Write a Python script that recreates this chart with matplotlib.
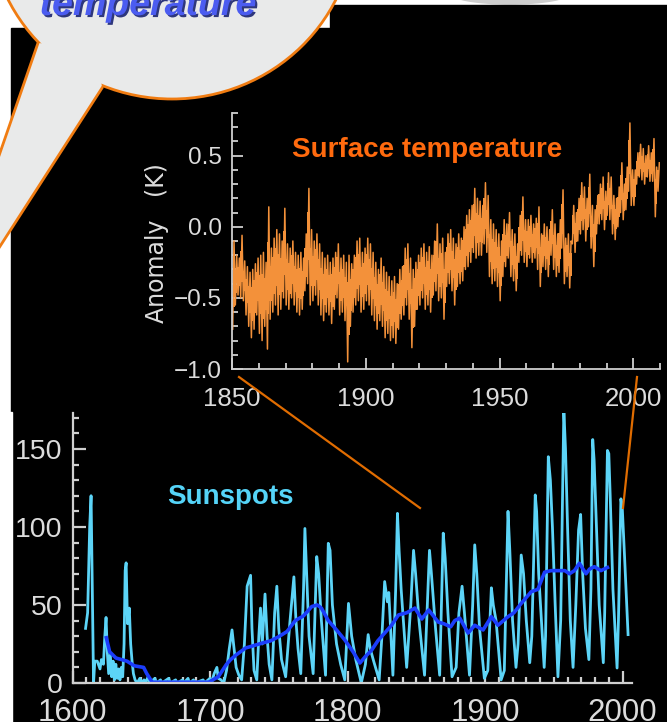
import numpy as np
import matplotlib.pyplot as plt
import matplotlib.patheffects as pe
from matplotlib.patches import Ellipse, Polygon, Rectangle
from matplotlib.ticker import MultipleLocator

plt.rcParams['font.family'] = ['Liberation Sans', 'DejaVu Sans']

# ---- surface temperature anomaly (K), yearly upper / lower envelope, 1850-2009
temp_years = np.arange(1850, 2010)
temp_hi = [
    -0.10, -0.20, -0.22, -0.06, -0.24, -0.28, -0.32, -0.30, -0.26, -0.22,
    -0.20, -0.18, -0.25, 0.14, -0.15, -0.08, -0.02, -0.05, -0.10, 0.13,
    -0.12, -0.15, -0.10, -0.18, -0.20, -0.18, -0.22, -0.05, 0.27, -0.02,
    -0.10, -0.05, -0.12, -0.18, -0.22, -0.20, -0.25, -0.22, -0.18, -0.12,
    -0.22, -0.20, -0.25, -0.20, -0.26, -0.20, -0.10, -0.08, -0.18, -0.15,
    -0.08, -0.12, -0.18, -0.25, -0.30, -0.22, -0.28, -0.32, -0.35, -0.38,
    -0.35, -0.40, -0.30, -0.28, -0.15, -0.12, -0.22, -0.30, -0.25, -0.20,
    -0.15, -0.12, -0.18, -0.14, -0.20, -0.10, 0.02, -0.12, -0.08, -0.18,
    -0.05, -0.02, -0.08, -0.12, -0.05, -0.08, 0.00, 0.08, 0.12, 0.15,
    0.27, 0.20, 0.18, 0.15, 0.31, 0.22, 0.05, 0.02, -0.02, -0.05,
    -0.10, 0.05, 0.02, 0.10, -0.02, -0.05, -0.12, 0.08, 0.21, 0.05,
    0.05, 0.08, 0.02, 0.06, 0.14, -0.05, 0.02, 0.00, -0.02, 0.12,
    0.02, -0.05, 0.05, 0.26, -0.08, -0.05, -0.10, 0.15, 0.10, 0.20,
    0.31, 0.28, 0.20, 0.37, 0.15, 0.12, 0.22, 0.30, 0.35, 0.25,
    0.38, 0.35, 0.22, 0.20, 0.28, 0.45, 0.30, 0.42, 0.73, 0.40,
    0.40, 0.52, 0.58, 0.55, 0.50, 0.57, 0.52, 0.62, 0.42, 0.45,
]
temp_lo = [
    -0.72, -0.55, -0.48, -0.50, -0.52, -0.62, -0.70, -0.78, -0.72, -0.62,
    -0.75, -0.80, -0.70, -0.86, -0.65, -0.60, -0.55, -0.62, -0.58, -0.50,
    -0.55, -0.58, -0.50, -0.55, -0.60, -0.62, -0.58, -0.45, -0.40, -0.55,
    -0.52, -0.48, -0.55, -0.62, -0.66, -0.60, -0.62, -0.68, -0.58, -0.50,
    -0.62, -0.60, -0.66, -0.95, -0.70, -0.60, -0.55, -0.52, -0.60, -0.58,
    -0.52, -0.55, -0.62, -0.66, -0.72, -0.66, -0.70, -0.78, -0.75, -0.80,
    -0.78, -0.82, -0.72, -0.65, -0.62, -0.55, -0.65, -0.85, -0.70, -0.58,
    -0.55, -0.50, -0.58, -0.55, -0.60, -0.48, -0.45, -0.52, -0.50, -0.65,
    -0.42, -0.40, -0.45, -0.55, -0.42, -0.40, -0.38, -0.30, -0.28, -0.25,
    -0.18, -0.22, -0.20, -0.20, -0.12, -0.18, -0.35, -0.40, -0.38, -0.42,
    -0.52, -0.35, -0.28, -0.22, -0.35, -0.38, -0.45, -0.25, -0.20, -0.25,
    -0.28, -0.22, -0.25, -0.22, -0.30, -0.42, -0.28, -0.30, -0.35, -0.20,
    -0.30, -0.35, -0.32, -0.15, -0.40, -0.35, -0.43, -0.12, -0.18, -0.10,
    -0.05, -0.02, -0.10, 0.00, -0.15, -0.28, -0.05, 0.02, 0.05, -0.02,
    0.08, 0.05, -0.05, -0.09, 0.00, 0.10, 0.05, 0.12, 0.25, 0.15,
    0.15, 0.30, 0.35, 0.33, 0.30, 0.35, 0.32, 0.32, 0.07, 0.25,
]

# ---- sunspot number, turning points of the yearly series
sun_years = [
    1609.5, 1611, 1612.5, 1613.5, 1614.5, 1615.3, 1616.2, 1618, 1620, 1621,
    1622.5, 1623.5, 1624.4, 1625.3, 1626.3, 1627.5, 1628.5, 1629.5, 1630.5, 1631.5,
    1632.5, 1633.5, 1634.5, 1635.5, 1636.5, 1637.5, 1638.3, 1639, 1640, 1641.3,
    1642.3, 1643.3, 1644.3, 1645.5, 1647, 1649, 1650, 1652, 1653, 1655,
    1656, 1660, 1661, 1664, 1665, 1670, 1671, 1675, 1676, 1680,
    1681, 1684, 1685, 1688, 1689, 1695, 1696, 1700, 1701, 1703,
    1705, 1706, 1708, 1710, 1712, 1714, 1716, 1717.5, 1719, 1721,
    1723, 1725, 1727, 1729.5, 1730.5, 1732, 1734, 1735.5, 1736.7, 1738,
    1740, 1741.5, 1743, 1745, 1747, 1748.6, 1750, 1752, 1755, 1758,
    1761, 1762.5, 1764, 1766, 1768, 1769, 1770.5, 1772, 1775, 1777,
    1777.6, 1779, 1781, 1784, 1786, 1787.3, 1789, 1792, 1795, 1798,
    1800.7, 1803, 1806, 1810, 1813, 1815, 1816.5, 1819, 1823, 1825,
    1827, 1829, 1830, 1833, 1835, 1836.3, 1837.5, 1839, 1843, 1846,
    1848, 1849.5, 1852, 1856, 1858, 1859.6, 1861, 1864, 1867, 1869.6,
    1871, 1873, 1876, 1879, 1881, 1883.3, 1885, 1888.7, 1891, 1892.5,
    1894, 1896, 1899.5, 1902, 1904.6, 1906, 1908, 1911.7, 1914, 1916.7,
    1918, 1920, 1922.5, 1924, 1926.3, 1928, 1930, 1932.5, 1934, 1936.5,
    1937.5, 1939, 1943, 1944, 1946, 1947.5, 1949, 1951, 1953, 1955,
    1957.3, 1958.5, 1960, 1962, 1964, 1966, 1968, 1969.5, 1971, 1973,
    1975.5, 1977, 1978.3, 1979.3, 1981, 1983, 1986, 1987, 1989, 1990,
    1991, 1993, 1996, 1997, 1998.8, 1999.8, 2001.5, 2004,
]
sun_values = [
    35, 45, 100, 120, 55, 0, 14, 14, 9, 15,
    12, 30, 42, 20, 6, 18, 4, 14, 2, 12,
    3, 9, 2, 10, 4, 25, 72, 77, 38, 48,
    25, 14, 6, 2, 0, 3, 0, 2, 0, 4,
    0, 3, 0, 2, 0, 3, 0, 2, 0, 2,
    0, 3, 0, 2, 0, 2, 0, 3, 0, 6,
    10, 3, 2, 0, 8, 22, 34, 22, 10, 5,
    2, 25, 62, 69, 35, 8, 2, 30, 48, 25,
    57, 30, 12, 2, 45, 62, 35, 15, 4, 38,
    68, 40, 22, 6, 60, 99, 65, 30, 6, 62,
    81, 70, 40, 5, 89.5, 85, 50, 25, 12, 2,
    51, 30, 15, 0, 12, 31, 22, 14, 2, 30,
    65, 52, 58, 5, 60, 108.7, 85, 60, 10, 50,
    85, 70, 40, 5, 50, 85, 70, 35, 5, 96,
    80, 45, 4, 10, 45, 62, 45, 5, 50, 88.5,
    70, 35, 3, 8, 61, 50, 40, 2, 8, 110,
    85, 40, 10, 25, 82, 70, 40, 13, 30, 120.5,
    110, 70, 10, 30, 145, 130, 100, 50, 4, 40,
    175, 150, 100, 40, 10, 50, 98, 108, 70, 35,
    15, 60, 156, 143, 100, 50, 13, 45, 149, 147,
    120, 60, 9.6, 40, 118, 112, 80, 31,
]

# ---- smoothed sunspot number
smooth_years = [
    1624.6, 1627, 1631.6, 1639.6, 1645, 1651.7, 1654, 1658, 1699, 1706,
    1712, 1715, 1719, 1725.8, 1732, 1738, 1744, 1750, 1756, 1762,
    1768, 1774, 1778, 1781, 1786, 1792, 1798, 1804, 1809, 1813,
    1817.5, 1822, 1827, 1832, 1837, 1843, 1849, 1854, 1859, 1866,
    1870, 1875, 1878, 1881.6, 1887.7, 1892.5, 1898.6, 1904.6, 1909.4, 1916.7,
    1921, 1926.3, 1933.6, 1938.4, 1943.3, 1948, 1953, 1958, 1961.4, 1965,
    1968.6, 1973.4, 1976, 1979.5, 1984.3, 1989,
]
smooth_values = [
    29, 20, 16, 14, 11, 10, 6, 0.5, 0.5, 4,
    12, 15, 18, 22.4, 24, 25.6, 27, 29.7, 33, 40,
    43, 49, 50, 48, 40, 34, 27.6, 20, 12.8, 17,
    21, 27, 32, 37, 43.6, 45, 48, 41, 46.8, 39,
    38, 36, 40, 41.6, 32, 37, 34, 42.5, 37, 42.5,
    45, 51, 58.5, 60, 71, 72, 72, 72, 70, 72,
    76.7, 70, 73, 74.5, 72, 74,
]

W, H = 667, 722
fig = plt.figure(figsize=(W / 100, H / 100), dpi=100, facecolor='white')


def fig_rect(x0, y0, x1, y1):
    # pixel box (top-left origin) -> figure fraction rect
    return [x0 / W, 1 - y1 / H, (x1 - x0) / W, (y1 - y0) / H]


# background layer
bg = fig.add_axes([0, 0, 1, 1], zorder=0)
bg.set_xlim(0, W)
bg.set_ylim(H, 0)
bg.axis('off')
bg.add_patch(Ellipse((510, -7), 120, 22, color='#cdcdcd'))
bg.add_patch(Rectangle((11, 28), W - 11, H - 28, color='black'))
bg.add_patch(Rectangle((330, 5), W - 330, 30, color='black'))

axis_grey = '#cfcfcf'
label_grey = '#dcdcdc'
band = '#f3913a'

# ---- upper panel: surface temperature
ax1 = fig.add_axes(fig_rect(232, 113, 660, 369), zorder=1)
ax1.patch.set_alpha(0)
t_hi = np.array(temp_hi)
t_lo = np.array(temp_lo)
spread = t_hi - t_lo
ax1.fill_between(temp_years + 0.5, t_lo + 0.25 * spread, t_hi - 0.25 * spread,
                 step='mid', color=band, lw=0)
xs = np.column_stack([temp_years + 0.25, temp_years + 0.75]).ravel()
ys = np.column_stack([t_lo, t_hi]).ravel()
ax1.plot(xs, ys, color=band, lw=1.1)
ax1.set_xlim(1850, 2010)
ax1.set_ylim(-1.0, 0.8)
ax1.xaxis.set_major_locator(MultipleLocator(50))
ax1.xaxis.set_minor_locator(MultipleLocator(10))
ax1.yaxis.set_minor_locator(MultipleLocator(0.1))
ax1.set_yticks([-1.0, -0.5, 0.0, 0.5])
ax1.set_yticklabels(['\u22121.0', '\u22120.5', '0.0', '0.5'])
for s in ['top', 'right']:
    ax1.spines[s].set_visible(False)
for s in ['left', 'bottom']:
    ax1.spines[s].set_color(axis_grey)
    ax1.spines[s].set_linewidth(1.3)
ax1.tick_params(which='both', direction='in', color=axis_grey, width=1.3,
                labelcolor=label_grey)
ax1.tick_params(which='major', length=8)
ax1.tick_params(which='minor', length=4.5)
ax1.tick_params(axis='y', labelsize=17.5, pad=7)
ax1.tick_params(axis='x', labelsize=18.5, pad=13)

# ---- lower panel: sunspots
ax2 = fig.add_axes(fig_rect(72.5, 413, 631.5, 683), zorder=1)
ax2.patch.set_alpha(0)
ax2.plot(sun_years, sun_values, color='#5cd4f7', lw=2.0)
ax2.plot(smooth_years, smooth_values, color='#1b3dfb', lw=2.6)
ax2.set_xlim(1600, 2006.5)
ax2.set_ylim(0, 173)
ax2.xaxis.set_major_locator(MultipleLocator(100))
ax2.xaxis.set_minor_locator(MultipleLocator(10))
ax2.yaxis.set_major_locator(MultipleLocator(50))
ax2.yaxis.set_minor_locator(MultipleLocator(10))
for s in ['top', 'right']:
    ax2.spines[s].set_visible(False)
for s in ['left', 'bottom']:
    ax2.spines[s].set_color(axis_grey)
    ax2.spines[s].set_linewidth(1.6)
ax2.tick_params(which='both', direction='in', color=axis_grey, width=1.6,
                labelcolor=label_grey)
ax2.tick_params(which='major', length=9)
ax2.tick_params(which='minor', length=4.5)
ax2.tick_params(axis='y', labelsize=20.5, pad=7)
ax2.tick_params(axis='x', labelsize=22.5, pad=11)

# ---- foreground: bubble, connectors, titles
fg = fig.add_axes([0, 0, 1, 1], zorder=2)
fg.set_xlim(0, W)
fg.set_ylim(H, 0)
fg.axis('off')
fg.patch.set_alpha(0)

bubble_fill = '#e9eaea'
bubble_edge = '#f07c12'
fg.add_patch(Ellipse((172, -80), 366, 358, facecolor=bubble_fill,
                     edgecolor=bubble_edge, lw=2))
tip = (-70, 355)
fg.add_patch(Polygon([(38, 43), tip, (102, 88), (100, 70), (60, 45)],
                     closed=True, facecolor=bubble_fill, edgecolor='none'))
fg.plot([38, tip[0]], [43, tip[1]], color=bubble_edge, lw=2)
fg.plot([102, tip[0]], [88, tip[1]], color=bubble_edge, lw=2)

fg.text(148, 15, 'temperature', ha='center', va='baseline', fontsize=27,
        fontweight='bold', fontstyle='italic', color='#4b5cf0',
        path_effects=[pe.withSimplePatchShadow(offset=(1.5, -1.5),
                                               shadow_rgbFace='#1a2370',
                                               alpha=0.9)])

# connector lines from the temperature axis down to the sunspot record
fg.plot([239, 420], [377, 508], color='#e06c00', lw=1.6)
fg.plot([637, 623], [377, 508], color='#e06c00', lw=1.6)

fg.text(427, 150, 'Surface temperature', ha='center', va='center',
        fontsize=20, fontweight='bold', color='#ff6a0e')
fg.text(230, 497, 'Sunspots', ha='center', va='center',
        fontsize=20, fontweight='bold', color='#55d4f8')
fg.text(157, 243, 'Anomaly   (K)', ha='center', va='center', rotation=90,
        fontsize=17, color=label_grey, family=['DejaVu Sans'])

# left white margin that crops the lower panel
fg.add_patch(Rectangle((0, 412), 12, H - 412, color='white'))

fig.savefig('out.png', dpi=100, facecolor='white')
